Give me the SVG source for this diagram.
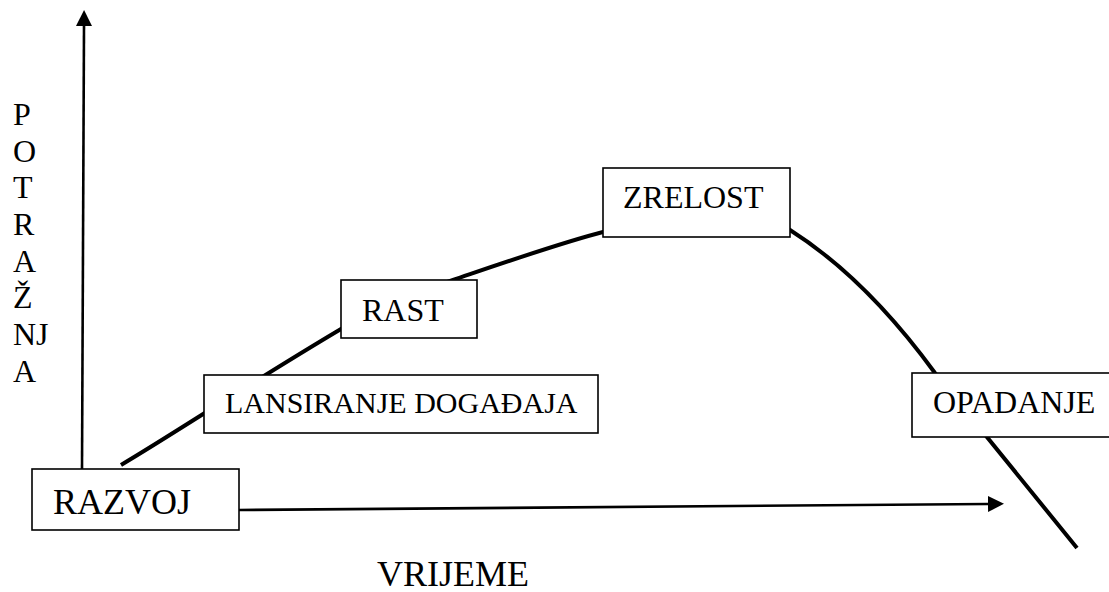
<svg xmlns="http://www.w3.org/2000/svg" width="1109" height="592" viewBox="0 0 1109 592">
<style>
.box{fill:#fff;stroke:#000;stroke-width:1.6}
.axis{fill:none;stroke:#000;stroke-width:2.6}
.curve{fill:none;stroke:#000;stroke-width:4}
</style>
<defs>
<marker id="ah" viewBox="0 0 16 16" markerWidth="16" markerHeight="16" refX="0" refY="8" orient="auto" markerUnits="userSpaceOnUse">
<path d="M0,0 L16,8 L0,16 z" fill="#000"/>
</marker>
</defs>
<rect width="1109" height="592" fill="#fff"/>
<g id="connectors">
<path class="curve" d="M121,465 C175,433 250,383 341,329 C375,310 410,294 453,280 C500,264 560,243 603,232 C650,220 735,195 790,230 C850,268 900,325 935,373 L1077,548"/>
<line class="axis" x1="82" y1="469" x2="84" y2="26" marker-end="url(#ah)"/>
<line class="axis" x1="239" y1="510" x2="988" y2="504" marker-end="url(#ah)"/>
</g>
<g font-family="Liberation Serif, Times New Roman, DejaVu Serif, serif" font-size="32" fill="#000">
<g id="axis-y-label">
<text x="13" y="125">P</text>
<text x="13" y="162">O</text>
<text x="13" y="198">T</text>
<text x="13" y="235">R</text>
<text x="13" y="272">A</text>
<text x="13" y="308">Ž</text>
<text x="13" y="345">NJ</text>
<text x="13" y="382">A</text>
</g>
<g id="axis-x-label">
<text font-size="36" x="377" y="586">VRIJEME</text>
</g>
<g id="razvoj">
<rect class="box" x="32" y="469" width="207" height="61"/>
<text font-size="36" x="53" y="514">RAZVOJ</text>
</g>
<g id="lansiranje">
<rect class="box" x="204" y="375" width="394" height="58"/>
<text font-size="30" x="225" y="413">LANSIRANJE DOGAĐAJA</text>
</g>
<g id="rast">
<rect class="box" x="341" y="280" width="136" height="58"/>
<text x="362" y="321">RAST</text>
</g>
<g id="zrelost">
<rect class="box" x="603" y="168" width="187" height="69"/>
<text x="623" y="208">ZRELOST</text>
</g>
<g id="opadanje">
<rect class="box" x="912" y="373" width="210" height="64"/>
<text x="933" y="413">OPADANJE</text>
</g>
</g>
</svg>
